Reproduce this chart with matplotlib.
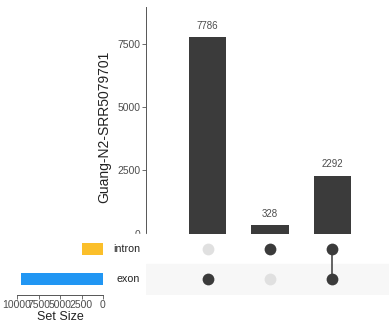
import matplotlib.pyplot as plt
from matplotlib.patches import Rectangle

plt.rcParams['font.family'] = ['Liberation Sans', 'DejaVu Sans']

# intersection bars (left to right) and which sets each one belongs to
intersect_sizes = [7786, 328, 2292]
intersect_members = [["exon"], ["intron"], ["intron", "exon"]]

# sets, drawn bottom to top in the matrix
set_names = ["exon", "intron"]
set_sizes = [9550, 2420]
set_colors = ["#2196F3", "#FBBF2A"]

ylabel = "Guang-N2-SRR5079701"

W, H = 389, 331
DARK = "#3b3b3b"
TXT = "#4d4d4d"


def box(l, t, r, b):
    # pixel box -> figure fraction rect
    return [l / W, 1 - b / H, (r - l) / W, (b - t) / H]


fig = plt.figure(figsize=(W / 100, H / 100), dpi=100)

cols = list(range(1, len(intersect_sizes) + 1))
xlim = (0.014, 3.909)

# --- intersection size bars ---
ax_bar = fig.add_axes(box(146, 7, 389, 233.5))
ax_bar.bar(cols, intersect_sizes, width=0.6, color=DARK)
for x, v in zip(cols, intersect_sizes):
    ax_bar.annotate(str(v), (x, v), xytext=(0, 4.5), textcoords="offset points",
                    ha="center", va="bottom", fontsize=7, color=TXT)
ax_bar.set_xlim(*xlim)
ax_bar.set_ylim(0, 8980)
ax_bar.set_yticks([0, 2500, 5000, 7500])
ax_bar.set_xticks([])
for s in ["top", "right", "bottom"]:
    ax_bar.spines[s].set_visible(False)
ax_bar.spines["left"].set_color("#555555")
ax_bar.spines["left"].set_linewidth(0.7)
ax_bar.tick_params(axis="y", labelsize=7.5, labelcolor=TXT, color="#555555",
                   length=3, width=0.6, pad=1)
fig.text(104.3 / W, 1 - 127 / H, ylabel, rotation=90, ha="center", va="center",
         fontsize=10, color="#222222")

# --- matrix of dots ---
ax_m = fig.add_axes(box(146, 233.5, 389, 294.5))
ax_m.set_xlim(*xlim)
ax_m.set_ylim(-0.5, len(set_names) - 0.5)
for i in range(len(set_names)):
    if i % 2 == 0:
        ax_m.axhspan(i - 0.5, i + 0.5, color="#f7f7f7", zorder=0)
for x, members in zip(cols, intersect_members):
    rows = [set_names.index(m) for m in members]
    if len(rows) > 1:
        ax_m.plot([x, x], [min(rows), max(rows)], color=DARK, lw=1.1, zorder=2)
    for r in range(len(set_names)):
        c = DARK if r in rows else "#e0e0e0"
        ax_m.scatter(x, r, s=72, color=c, zorder=3, linewidths=0)
for r, name in enumerate(set_names):
    ax_m.text(-0.025, r, name, transform=ax_m.get_yaxis_transform(),
              ha="right", va="center", fontsize=7.7, color="#222222")
ax_m.axis("off")

# --- set size bars ---
ax_s = fig.add_axes(box(17, 233.5, 103, 294.5))
ax_s.barh(range(len(set_names)), set_sizes, height=0.4, color=set_colors)
ax_s.set_xlim(10000, 0)
ax_s.set_ylim(-0.5, len(set_names) - 0.5)
ax_s.set_xticks([10000, 7500, 5000, 2500, 0])
ax_s.set_yticks([])
for s in ["top", "right", "left"]:
    ax_s.spines[s].set_visible(False)
ax_s.spines["bottom"].set_color("#555555")
ax_s.spines["bottom"].set_linewidth(0.7)
ax_s.tick_params(axis="x", labelsize=7.5, labelcolor=TXT, color="#555555",
                 length=3, width=0.6, pad=1)
ax_s.set_xlabel("Set Size", fontsize=9, color="#222222", labelpad=1)

# the names panel hides the lower half of the "0" label
fig.add_artist(Rectangle((104 / W, 1 - 242 / H), 42 / W, 8 / H,
                         transform=fig.transFigure, color="white", zorder=5))

fig.savefig("out.png", dpi=100)
